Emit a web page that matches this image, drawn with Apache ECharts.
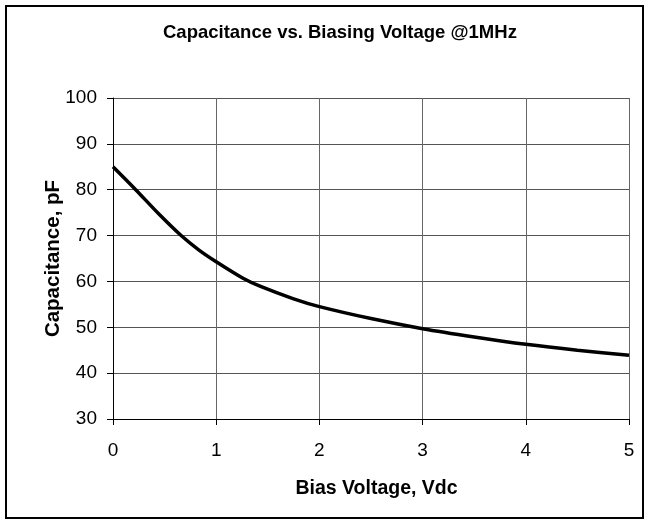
<!DOCTYPE html>
<html>
<head>
<meta charset="utf-8">
<script src="https://cdn.jsdelivr.net/npm/echarts@6/dist/echarts.min.js"></script>
<style>
  html, body { margin: 0; padding: 0; background: #fff; }
  #chart { width: 649px; height: 524px; }
</style>
</head>
<body>
<div id="chart"></div>
<script>
// bias voltage (Vdc) and capacitance (pF)
var biasVoltage = [0, 0.22, 0.44, 0.66, 0.83, 1, 1.26, 1.43, 1.75, 2, 2.5, 3, 3.5, 4, 4.5, 5];
var capacitance = [85.0, 80.0, 74.8, 70.0, 66.9, 64.3, 60.7, 58.9, 56.2, 54.5, 51.9, 49.7, 47.9, 46.3, 45.0, 43.9];
var xTicks = [0, 1, 2, 3, 4, 5];
var yTicks = [30, 40, 50, 60, 70, 80, 90, 100];

var points = biasVoltage.map(function (v, i) { return [v, capacitance[i]]; });

var myChart = echarts.init(document.getElementById("chart"));
var fontFam = "Liberation Sans, Arial, sans-serif";

myChart.setOption({
    animation: false,
    title: {
        text: "Capacitance vs. Biasing Voltage @1MHz",
        left: 158,
        top: 18,
        textStyle: { fontFamily: fontFam, fontSize: 18.5, fontWeight: "bold", color: "#000" }
    },
    graphic: [{
        type: "rect",
        shape: { x: 6, y: 6, width: 637, height: 512 },
        style: { fill: "none", stroke: "#000", lineWidth: 2 },
        silent: true
    }],
    grid: { left: 113, right: 20, top: 98, bottom: 105 },
    xAxis: {
        type: "value",
        min: xTicks[0],
        max: xTicks[xTicks.length - 1],
        interval: 1,
        name: "Bias Voltage, Vdc",
        nameLocation: "middle",
        nameGap: 60,
        nameMoveOverlap: false,
        nameTextStyle: { fontFamily: fontFam, fontSize: 19.5, fontWeight: "bold", color: "#000", padding: [0, 0, 0, 11] },
        axisLine: { lineStyle: { color: "#000", width: 1 } },
        axisTick: { show: true, length: 6, lineStyle: { color: "#000" } },
        axisLabel: { fontFamily: fontFam, fontSize: 19, color: "#000", margin: 22 },
        splitLine: { show: true, lineStyle: { color: "#666", width: 1 } }
    },
    yAxis: {
        type: "value",
        min: yTicks[0],
        max: yTicks[yTicks.length - 1],
        interval: 10,
        name: "Capacitance, pF",
        nameLocation: "middle",
        nameGap: 49,
        nameMoveOverlap: false,
        nameTextStyle: { fontFamily: fontFam, fontSize: 20.5, fontWeight: "bold", color: "#000" },
        axisLine: { show: true, lineStyle: { color: "#000", width: 1 } },
        axisTick: { show: true, length: 6, lineStyle: { color: "#000" } },
        axisLabel: { fontFamily: fontFam, fontSize: 19, color: "#000", margin: 16 },
        splitLine: { show: true, lineStyle: { color: "#555", width: 1 } }
    },
    series: [{
        type: "line",
        data: points,
        smooth: 0.3,
        showSymbol: false,
        lineStyle: { color: "#000", width: 3.5 }
    }]
});
</script>
</body>
</html>
